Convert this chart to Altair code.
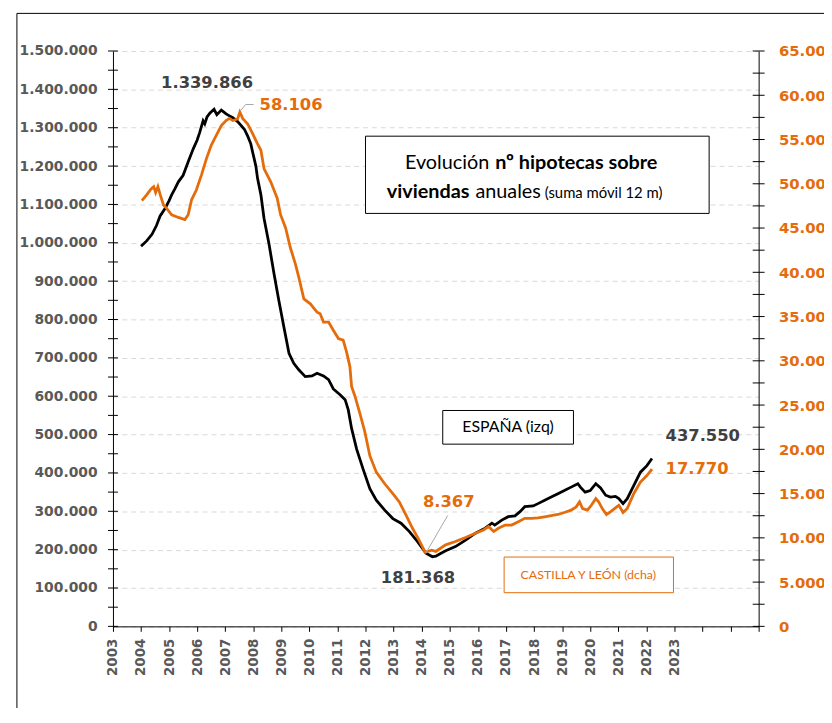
import altair as alt
import pandas as pd

# ---------------- data ----------------
es_years = [2004.00, 2004.20, 2004.39, 2004.55, 2004.68, 2004.86, 2005.00, 2005.09, 2005.20, 2005.33,
            2005.50, 2005.68, 2005.86, 2006.00, 2006.09, 2006.21, 2006.27, 2006.35, 2006.45, 2006.60,
            2006.70, 2006.86, 2007.03, 2007.15, 2007.27, 2007.44, 2007.56, 2007.68, 2007.80, 2007.91,
            2007.97, 2008.09, 2008.15, 2008.27, 2008.38, 2008.56, 2008.74, 2008.91, 2009.09, 2009.27,
            2009.44, 2009.62, 2009.85, 2010.09, 2010.27, 2010.50, 2010.68, 2010.85, 2011.09, 2011.27,
            2011.38, 2011.50, 2011.68, 2011.91, 2012.15, 2012.38, 2012.68, 2012.97, 2013.26, 2013.56,
            2013.85, 2014.15, 2014.38, 2014.50, 2014.67, 2014.85, 2015.20, 2015.56, 2015.91, 2016.26,
            2016.50, 2016.60, 2016.85, 2017.08, 2017.32, 2017.50, 2017.67, 2017.97, 2018.14, 2018.38,
            2018.61, 2018.85, 2019.08, 2019.32, 2019.56, 2019.65, 2019.82, 2020.00, 2020.20, 2020.37,
            2020.55, 2020.72, 2020.90, 2021.02, 2021.17, 2021.32, 2021.55, 2021.79, 2022.02, 2022.20]
es_values = [991000, 1005000, 1022000, 1045000, 1070000, 1090000, 1110000, 1125000, 1140000, 1159000,
             1176000, 1211000, 1245000, 1268000, 1288000, 1318000, 1310000, 1328000, 1338000, 1348000,
             1334000, 1346000, 1336000, 1331000, 1326000, 1316000, 1306000, 1296000, 1278000, 1258000,
             1238000, 1200000, 1168000, 1125000, 1064000, 996000, 918000, 849000, 780000, 712000,
             686000, 669000, 651000, 653000, 660000, 653000, 643000, 619000, 604000, 591000,
             565000, 516000, 462000, 410000, 359000, 329000, 303000, 281000, 269000, 247000,
             221000, 191000, 181368, 183000, 190000, 197000, 208000, 225000, 243000, 256000,
             269000, 264000, 277000, 286000, 288000, 299000, 312000, 314000, 320000, 329000,
             337000, 346000, 354000, 363000, 372000, 363000, 350000, 354000, 372000, 361000,
             342000, 337000, 339000, 333000, 320000, 333000, 367000, 402000, 419000, 437550]

cyl_years = [2004.03, 2004.20, 2004.35, 2004.45, 2004.52, 2004.60, 2004.68, 2004.80, 2004.92, 2005.09,
             2005.33, 2005.56, 2005.68, 2005.80, 2005.97, 2006.15, 2006.33, 2006.50, 2006.68, 2006.86,
             2007.03, 2007.15, 2007.27, 2007.44, 2007.52, 2007.62, 2007.80, 2007.97, 2008.15, 2008.27,
             2008.38, 2008.62, 2008.85, 2008.97, 2009.15, 2009.32, 2009.50, 2009.62, 2009.80, 2010.03,
             2010.27, 2010.38, 2010.50, 2010.68, 2010.85, 2011.03, 2011.20, 2011.32, 2011.44, 2011.50,
             2011.62, 2011.80, 2011.97, 2012.15, 2012.38, 2012.68, 2012.97, 2013.20, 2013.44, 2013.67,
             2013.90, 2014.12, 2014.35, 2014.50, 2014.85, 2015.20, 2015.56, 2015.91, 2016.20, 2016.38,
             2016.56, 2016.73, 2016.97, 2017.20, 2017.44, 2017.67, 2017.91, 2018.14, 2018.38, 2018.61,
             2018.85, 2019.08, 2019.32, 2019.50, 2019.62, 2019.73, 2019.90, 2020.04, 2020.20, 2020.30,
             2020.43, 2020.58, 2020.72, 2020.90, 2021.02, 2021.17, 2021.32, 2021.55, 2021.79, 2022.02,
             2022.20]
cyl_values = [48100, 48750, 49400, 49680, 49000, 49680, 48800, 47600, 47200, 46500,
              46200, 45950, 46500, 48190, 49300, 50980, 52840, 54340, 55460, 56580,
              57140, 57390, 57140, 57320, 58106, 57390, 56760, 55700, 54500, 53780,
              51720, 50230, 48370, 46510, 45010, 42770, 40920, 39420, 37000, 36440,
              35500, 35320, 34380, 34380, 33450, 32520, 32330, 31000, 29350, 27110,
              26000, 24000, 22000, 19280, 17420, 16110, 14990, 14060, 12560, 11080,
              9770, 8367, 8600, 8470, 9210, 9590, 10040, 10520, 10890, 11270,
              10710, 11080, 11450, 11450, 11830, 12200, 12200, 12270, 12380, 12500,
              12640, 12870, 13130, 13500, 14060, 13310, 13130, 13680, 14430, 14060,
              13310, 12640, 12940, 13390, 13680, 12870, 13310, 14990, 16300, 17040,
              17770]

year_ticks = list(range(2003, 2027))
left_ticks = list(range(0, 1500001, 100000))
left_minor = list(range(0, 1500001, 50000))
right_ticks = list(range(0, 65001, 5000))
right_minor = list(range(0, 65001, 2500))

value_labels = ["1.339.866", "58.106", "8.367", "181.368", "437.550", "17.770"]

# ---------------- layout / style ----------------
W, H = 652, 581
BLACK_TXT = "#404040"
AXIS_TXT = "#595959"
ORANGE = "#E46C0A"
NUMFONT = "DejaVu Sans"
TXTFONT = "Lato"
DOTS = "replace(format(datum.value, ','), regexp(',', 'g'), '.')"

es_df = pd.DataFrame({"year": es_years, "value": es_values})
cyl_df = pd.DataFrame({"year": cyl_years, "value": cyl_values})

x_enc = alt.X(
    "year:Q",
    scale=alt.Scale(domain=[2003, 2026], nice=False, zero=False),
    axis=alt.Axis(
        values=year_ticks,
        labelExpr="datum.value <= 2023 ? '' + datum.value : ''",
        labelAngle=270,
        labelAlign="right",
        labelBaseline="middle",
        labelFont=NUMFONT,
        labelFontWeight="bold",
        labelFontSize=13.5,
        labelColor=AXIS_TXT,
        labelPadding=7,
        labelOverlap=False,
        labelFlush=False,
        tickColor="black",
        tickSize=5,
        domainColor="black",
        grid=False,
        title=None,
    ),
)

left_scale = alt.Scale(domain=[0, 1500000], nice=False)
right_scale = alt.Scale(domain=[0, 65000], nice=False)

es_line = alt.Chart(es_df).mark_line(color="black", strokeWidth=2.8).encode(
    x=x_enc,
    y=alt.Y(
        "value:Q",
        scale=left_scale,
        axis=alt.Axis(
            orient="left",
            values=left_ticks,
            labelExpr=DOTS,
            grid=True,
            gridDash=[5, 4],
            gridColor="#d9d9d9",
            gridWidth=1,
            ticks=False,
            tickSize=0,
            domainColor="black",
            labelColor=AXIS_TXT,
            labelFont=NUMFONT,
            labelFontWeight="bold",
            labelFontSize=14,
            labelPadding=16,
            labelOverlap=False,
            labelFlush=False,
            title=None,
        ),
    ),
)

cyl_line = alt.Chart(cyl_df).mark_line(color=ORANGE, strokeWidth=2.8).encode(
    x=x_enc,
    y=alt.Y(
        "value:Q",
        scale=right_scale,
        axis=alt.Axis(
            orient="right",
            values=right_ticks,
            labelExpr=DOTS,
            grid=False,
            ticks=False,
            tickSize=0,
            domainColor="black",
            labelColor=ORANGE,
            labelFont=NUMFONT,
            labelFontWeight="bold",
            labelFontSize=15,
            labelPadding=20,
            labelOverlap=False,
            labelFlush=False,
            title=None,
        ),
    ),
)

left_tick_layer = alt.Chart(pd.DataFrame({"v": left_minor})).mark_rule(color="black", strokeWidth=1).encode(
    y=alt.Y("v:Q", scale=left_scale, axis=None), x=alt.value(-5), x2=alt.value(5)
)
right_tick_layer = alt.Chart(pd.DataFrame({"v": right_minor})).mark_rule(color="black", strokeWidth=1).encode(
    y=alt.Y("v:Q", scale=right_scale, axis=None), x=alt.value(W - 6), x2=alt.value(W + 6)
)

one = pd.DataFrame({"k": [0]})


def rect(x, y, x2, y2, stroke, fill="white"):
    return alt.Chart(one).mark_rect(stroke=stroke, strokeWidth=1, fill=fill).encode(
        x=alt.value(x), y=alt.value(y), x2=alt.value(x2), y2=alt.value(y2)
    )


def rule(x, y, x2, y2, color="#A6A6A6"):
    return alt.Chart(one).mark_rule(color=color, strokeWidth=1).encode(
        x=alt.value(x), y=alt.value(y), x2=alt.value(x2), y2=alt.value(y2)
    )


def text(t, x, y, size, color, weight="normal", align="left", font=TXTFONT):
    return alt.Chart(one).mark_text(
        text=t, fontSize=size, color=color, fontWeight=weight, align=align, baseline="middle", font=font
    ).encode(x=alt.value(x), y=alt.value(y))


frame = alt.Chart(one).mark_rect(stroke="black", strokeWidth=1, fillOpacity=0).encode(
    x=alt.value(-97), y=alt.value(-38), x2=alt.value(W + 300), y2=alt.value(H + 300)
)

decor = [
    frame,
    # title box
    rect(255, 86, 602, 164, "black"),
    text("Evolución", 380, 113, 20, "black", align="right"),
    text("nº hipotecas sobre", 386, 113, 20, "black", "bold"),
    text("viviendas", 360, 142, 20, "black", "bold", align="right"),
    text("anuales", 366, 142, 20, "black"),
    text("(suma móvil 12 m)", 436, 143, 15, "black"),
    # series boxes
    rect(333, 363, 465, 397, "black"),
    text("ESPAÑA (izq)", 399, 380, 16, "black", align="center"),
    rect(395, 511, 566, 547, ORANGE),
    text("CASTILLA Y LEÓN (dcha)", 480, 529, 12.5, ORANGE, align="center"),
    # leader lines
    rule(129, 60, 134, 54),
    rule(134, 54, 142, 54),
    rule(316, 507, 338, 469),
    # value labels
    text(value_labels[0], 95, 32, 16.5, BLACK_TXT, "bold", "center", NUMFONT),
    text(value_labels[1], 148, 55, 16.5, ORANGE, "bold", "left", NUMFONT),
    text(value_labels[2], 313, 455, 16.5, ORANGE, "bold", "left", NUMFONT),
    text(value_labels[3], 308, 532, 16.5, BLACK_TXT, "bold", "center", NUMFONT),
    text(value_labels[4], 558, 389, 16.5, BLACK_TXT, "bold", "left", NUMFONT),
    text(value_labels[5], 558, 422, 16.5, ORANGE, "bold", "left", NUMFONT),
]

chart = alt.layer(
    es_line, cyl_line, left_tick_layer, right_tick_layer, *decor
).resolve_scale(y="independent").properties(
    width=W,
    height=H,
    padding={"left": 106, "top": 40, "right": 66, "bottom": 79},
    autosize=alt.AutoSizeParams(type="none"),
    background="white",
).configure_view(stroke=None)

chart.save("out.html", embed_options={"renderer": "svg", "actions": False})
